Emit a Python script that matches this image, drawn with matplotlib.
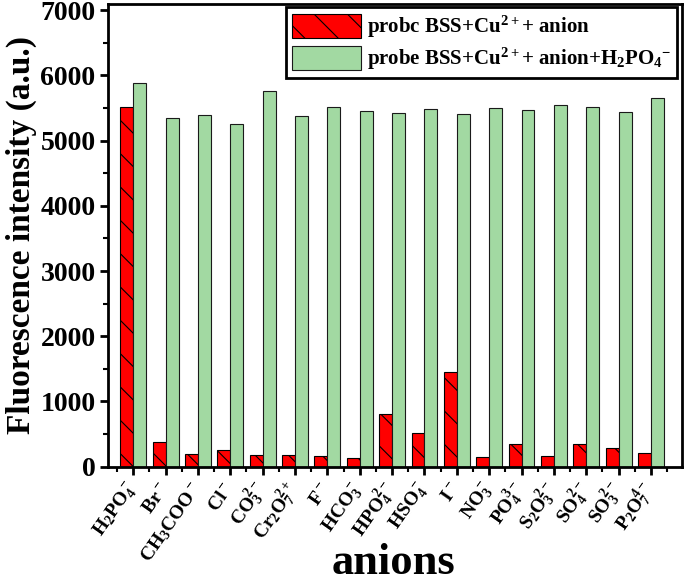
import numpy as np
import matplotlib
matplotlib.use("Agg")
import matplotlib.pyplot as plt
from matplotlib.ticker import MultipleLocator

matplotlib.rcParams.update({
    'font.family': 'Liberation Serif',
    'font.weight': 'bold',
    'mathtext.fontset': 'custom',
    'mathtext.rm': 'Liberation Serif:bold',
    'mathtext.it': 'Liberation Serif:bold',
    'mathtext.bf': 'Liberation Serif:bold',
    'hatch.linewidth': 0.8,
})

anions = [r'$\mathrm{H_2PO_4^-}$', r'$\mathrm{Br^-}$', r'$\mathrm{CH_3COO^-}$',
          r'$\mathrm{Cl^-}$', r'$\mathrm{CO_3^{2-}}$', r'$\mathrm{Cr_2O_7^{2+}}$',
          r'$\mathrm{F^-}$', r'$\mathrm{HCO_3^-}$', r'$\mathrm{HPO_4^{2-}}$',
          r'$\mathrm{HSO_4^-}$', r'$\mathrm{I^-}$', r'$\mathrm{NO_3^-}$',
          r'$\mathrm{PO_4^{3-}}$', r'$\mathrm{S_2O_3^{2-}}$', r'$\mathrm{SO_4^{2-}}$',
          r'$\mathrm{SO_3^{2-}}$', r'$\mathrm{P_2O_7^{4-}}$']

# probe BSS + Cu2+ + anion
anion_only = [5518, 374, 190, 261, 175, 184, 159, 133, 808,
              517, 1456, 153, 343, 159, 343, 282, 205]
# probe BSS + Cu2+ + anion + H2PO4-
with_h2po4 = [5877, 5340, 5391, 5253, 5759, 5376, 5518, 5452, 5417,
              5483, 5402, 5503, 5467, 5540, 5518, 5432, 5656]

x = np.arange(1, len(anions) + 1)
w = 0.4

fig = plt.figure(figsize=(6.85, 5.87), dpi=100)
ax = fig.add_axes([0.1577, 0.2049, 0.8379, 0.7891])

ax.bar(x - w/2, anion_only, w, color='#ff0000', edgecolor='black',
       linewidth=0.8, hatch='\\', label=r'probc BSS+Cu$^{2+}$+ anion')
ax.bar(x + w/2, with_h2po4, w, color='#a2d9a2', edgecolor='#1a1a1a',
       linewidth=0.8, label=r'probe BSS+Cu$^{2+}$+ anion+H$_2$PO$_4$$^{-}$')

ax.set_xlim(0.22, 17.96)
ax.set_ylim(0, 7100)
ax.set_xticks(x)
ax.set_xticklabels(anions, rotation=55, ha='right', va='center',
                   rotation_mode='anchor', fontsize=14)
ax.xaxis.set_minor_locator(MultipleLocator(0.5))
ax.yaxis.set_major_locator(MultipleLocator(1000))
ax.yaxis.set_minor_locator(MultipleLocator(500))
ax.tick_params(axis='both', which='major', direction='out', length=6, width=2)
ax.tick_params(axis='both', which='minor', direction='out', length=3.5, width=1.5)
ax.tick_params(axis='y', labelsize=20, pad=3)
ax.tick_params(axis='x', pad=7)
for s in ax.spines.values():
    s.set_linewidth(2)

ax.set_ylabel('Fluorescence intensity (a.u.)', fontsize=24, fontweight='bold')
ax.yaxis.set_label_coords(-0.124, 0.5)
ax.set_xlabel('anions', fontsize=32, fontweight='bold', va='baseline')
ax.xaxis.set_label_coords(0.497, -0.232)

leg = ax.legend(loc='upper right', bbox_to_anchor=(0.992, 0.992), borderaxespad=0,
                fancybox=False, edgecolor='black', fontsize=15, handlelength=3.3,
                handleheight=1.4, handletextpad=0.3, labelspacing=0.3,
                borderpad=0.3, framealpha=1)
leg.get_frame().set_linewidth(2)

fig.savefig('out.png', dpi=100)
